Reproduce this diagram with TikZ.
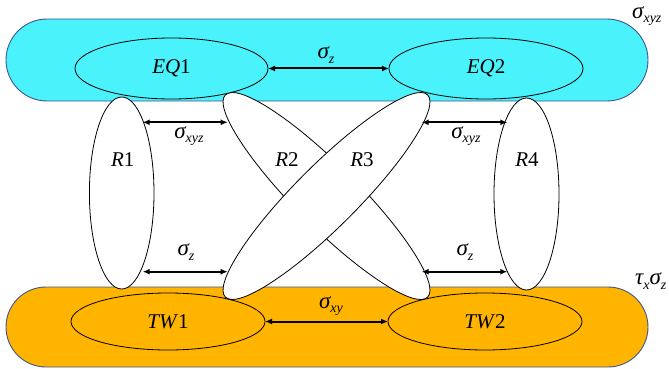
\documentclass[tikz,border=0pt]{standalone}
\usepackage{fontspec}
\setmainfont{Liberation Serif}
\newfontfamily\tms{Liberation Serif}
\usetikzlibrary{shapes.geometric,arrows.meta}
\definecolor{bandcyan}{RGB}{74,242,251}
\definecolor{bandorange}{RGB}{255,180,0}
\definecolor{bandedge}{RGB}{65,84,143}
\newcommand\lowsub[1]{\raisebox{-0.45em}{\tms\fontsize{14}{14}\selectfont\itshape #1}}
\newcommand\sg{{\tms\fontsize{23}{23}\selectfont\itshape σ}}
\newcommand\ta{{\tms\fontsize{23}{23}\selectfont\itshape τ}}
\newcommand\lbl[2]{{\tms\fontsize{21}{21}\selectfont\textit{#1}#2}}
\tikzset{
  band/.style={draw=bandedge,line width=0.9pt,rectangle,inner sep=0pt,outer sep=0pt},
  oval/.style={draw=black,line width=0.8pt,ellipse,inner sep=0pt,outer sep=0pt},
  roval/.style={oval,fill=white},
  lab/.style={inner sep=0pt},
  slab/.style={inner sep=0pt},
  arr/.style={{Latex[length=7pt,width=6pt]}-{Latex[length=7pt,width=6pt]},line width=2pt}
}
\begin{document}
\begin{tikzpicture}[x=1pt,y=1pt]
\useasboundingbox (0,0) rectangle (669,-369);
% bands
\node[band,fill=bandcyan,rounded corners=41pt,minimum width=642pt,minimum height=82pt] (topband) at (327,-60) {};
\node[band,fill=bandorange,rounded corners=40pt,minimum width=642pt,minimum height=80pt] (botband) at (327,-327) {};
% R ellipses
\node[roval,minimum width=64.6pt,minimum height=192pt] (R1) at (121.7,-193) {};
\node[roval,minimum width=286pt,minimum height=62pt,rotate=-45] (R2) at (326.5,-196) {};
\node[roval,minimum width=286pt,minimum height=62pt,rotate=45] (R3) at (326.5,-196) {};
\node[roval,minimum width=65pt,minimum height=192pt] (R4) at (526.5,-194) {};
% EQ / TW ellipses
\node[oval,fill=bandcyan,minimum width=193pt,minimum height=61pt] (EQ1) at (171.5,-68.5) {};
\node[oval,fill=bandcyan,minimum width=194pt,minimum height=61pt] (EQ2) at (486,-68.5) {};
\node[oval,minimum width=194pt,minimum height=57pt] (TW1) at (168,-321.5) {};
\node[oval,minimum width=194pt,minimum height=57pt] (TW2) at (485,-321.5) {};
% labels
\node[lab] (lEQ1) at (171.5,-68.5) {\lbl{EQ}{1}};
\node[lab] (lEQ2) at (486,-68.5) {\lbl{EQ}{2}};
\node[lab] (lTW1) at (168,-321.5) {\lbl{TW}{1}};
\node[lab] (lTW2) at (485,-321.5) {\lbl{TW}{2}};
\node[lab] (lR1) at (122.7,-160) {\lbl{R}{1}};
\node[lab] (lR2) at (287,-160) {\lbl{R}{2}};
\node[lab] (lR3) at (362,-160) {\lbl{R}{3}};
\node[lab] (lR4) at (527,-160) {\lbl{R}{4}};
% arrow end points
\coordinate (a1) at (142.7,-122.3);
\coordinate (a2) at (227.7,-122.3);
\coordinate (b1) at (142.7,-271.7);
\coordinate (b2) at (227.7,-271.7);
\coordinate (c1) at (421.7,-122.3);
\coordinate (c2) at (507.3,-122.3);
\coordinate (d1) at (421.7,-271.7);
\coordinate (d2) at (507.3,-271.7);
% arrows
\draw[arr] (EQ1.east) -- (EQ2.west);
\draw[arr] (TW1.east) -- (TW2.west);
\draw[arr] (a1) -- (a2);
\draw[arr] (b1) -- (b2);
\draw[arr] (c1) -- (c2);
\draw[arr] (d1) -- (d2);
% sigma labels
\node[slab] (s1) at (326,-55) {\sg\lowsub{z}};
\node[slab] (s2) at (331,-306) {\sg\lowsub{xy}};
\node[slab] (s3) at (189,-136) {\sg\lowsub{xyz}};
\node[slab] (s4) at (186,-252) {\sg\lowsub{z}};
\node[slab] (s5) at (466,-136) {\sg\lowsub{xyz}};
\node[slab] (s6) at (465,-252) {\sg\lowsub{z}};
\node[slab,anchor=west] (s7) at (632,-16) {\sg\lowsub{xyz}};
\node[slab,anchor=west] (s8) at (635,-281) {\ta\lowsub{x}\sg\lowsub{z}};
\end{tikzpicture}
\end{document}
